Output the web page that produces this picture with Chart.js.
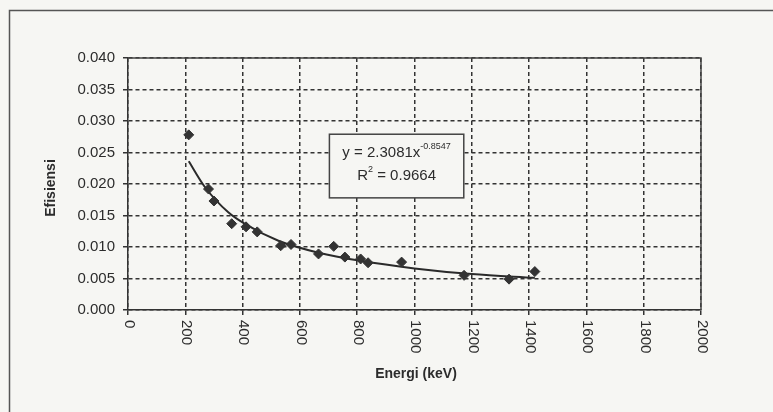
<!DOCTYPE html>
<html>
<head>
<meta charset="utf-8">
<script src="https://cdn.jsdelivr.net/npm/chart.js@4/dist/chart.umd.min.js"></script>
<style>
  html, body { margin: 0; padding: 0; background: #f6f6f3; }
  #wrap { width: 773px; height: 412px; }
</style>
</head>
<body>
<div id="wrap"><canvas id="c" width="773" height="412"></canvas></div>
<script>
// measured points (energy in keV, efficiency)
const energies = [212, 281, 300, 362, 412, 451, 533, 569, 665, 718, 757, 812, 838, 955, 1173, 1330, 1420];
const efficiencies = [0.0278, 0.0192, 0.0173, 0.0137, 0.0132, 0.0124, 0.0102, 0.0104, 0.0089, 0.0101, 0.0084, 0.0081, 0.0075, 0.0076, 0.0055, 0.0049, 0.0061];

// power trendline as it reads off the picture
const trendX = [212, 267, 350, 414, 525, 665, 812, 1000, 1200, 1420];
const trendY = [0.0236, 0.0196, 0.0155, 0.0135, 0.0110, 0.0091, 0.0078, 0.0066, 0.0057, 0.0051];

const xTicks = [0, 200, 400, 600, 800, 1000, 1200, 1400, 1600, 1800, 2000];
const yTicks = [0, 0.005, 0.010, 0.015, 0.020, 0.025, 0.030, 0.035, 0.040];

const eqMain = 'y = 2.3081x';
const eqExp = '-0.8547';
const r2Text = ' = 0.9664';

const BG = '#f6f6f3';
const INK = '#2c2c2c';
const FONT = '"Liberation Sans", Arial, sans-serif';

const decor = {
    id: 'decor',
    beforeDraw(chart) {
        const ctx = chart.ctx;
        ctx.save();
        ctx.fillStyle = BG;
        ctx.fillRect(0, 0, chart.width, chart.height);
        // outer chart frame
        ctx.strokeStyle = '#555';
        ctx.lineWidth = 1.5;
        ctx.strokeRect(9.5, 10.5, 800, 450);
        ctx.restore();
    },
    afterDraw(chart) {
        const ctx = chart.ctx;
        const a = chart.chartArea;
        const xs = chart.scales.x, ys = chart.scales.y;
        ctx.save();
        // plot frame top / right
        ctx.strokeStyle = '#444';
        ctx.lineWidth = 1.5;
        ctx.beginPath();
        ctx.moveTo(a.left, a.top);
        ctx.lineTo(a.right, a.top);
        ctx.lineTo(a.right, a.bottom);
        ctx.stroke();

        // rotated x tick labels
        ctx.fillStyle = INK;
        ctx.font = '15px ' + FONT;
        ctx.textAlign = 'left';
        ctx.textBaseline = 'middle';
        xTicks.forEach(v => {
            const px = xs.getPixelForValue(v);
            ctx.save();
            ctx.translate(px + 1, a.bottom + 10);
            ctx.rotate(Math.PI / 2);
            ctx.fillText(String(v), 0, 0);
            ctx.restore();
        });

        // axis titles
        ctx.font = 'bold 14px ' + FONT;
        ctx.textAlign = 'center';
        ctx.textBaseline = 'middle';
        ctx.fillText('Energi (keV)', 416, 374);
        ctx.save();
        ctx.translate(51, 188);
        ctx.rotate(-Math.PI / 2);
        ctx.fillText('Efisiensi', 0, 0);
        ctx.restore();

        // equation box
        const bx1 = xs.getPixelForValue(703), bx2 = xs.getPixelForValue(1172);
        const by1 = ys.getPixelForValue(0.0279), by2 = ys.getPixelForValue(0.0178);
        ctx.fillStyle = BG;
        ctx.fillRect(bx1, by1, bx2 - bx1, by2 - by1);
        ctx.strokeStyle = '#444';
        ctx.lineWidth = 1.5;
        ctx.strokeRect(bx1, by1, bx2 - bx1, by2 - by1);

        const cx = (bx1 + bx2) / 2;
        ctx.fillStyle = INK;
        ctx.textAlign = 'left';
        ctx.textBaseline = 'alphabetic';
        ctx.font = '15px ' + FONT;
        const w1 = ctx.measureText(eqMain).width;
        ctx.font = '9px ' + FONT;
        const w1e = ctx.measureText(eqExp).width;
        let x0 = cx - (w1 + w1e) / 2;
        ctx.font = '15px ' + FONT;
        ctx.fillText(eqMain, x0, by1 + 23);
        ctx.font = '9px ' + FONT;
        ctx.fillText(eqExp, x0 + w1, by1 + 15);

        ctx.font = '15px ' + FONT;
        const wr = ctx.measureText('R').width;
        const wv = ctx.measureText(r2Text).width;
        ctx.font = '9px ' + FONT;
        const w2 = ctx.measureText('2').width;
        x0 = cx - (wr + w2 + wv) / 2;
        ctx.font = '15px ' + FONT;
        ctx.fillText('R', x0, by1 + 46);
        ctx.font = '9px ' + FONT;
        ctx.fillText('2', x0 + wr, by1 + 38);
        ctx.font = '15px ' + FONT;
        ctx.fillText(r2Text, x0 + wr + w2, by1 + 46);
        ctx.restore();
    }
};

new Chart(document.getElementById('c'), {
    type: 'scatter',
    data: {
        datasets: [{
            label: 'Efisiensi',
            data: energies.map((e, i) => ({ x: e, y: efficiencies[i] })),
            pointStyle: 'rectRot',
            pointRadius: 5,
            pointBackgroundColor: '#333',
            pointBorderColor: '#333',
            showLine: false
        }, {
            label: 'Power',
            type: 'line',
            data: trendX.map((e, i) => ({ x: e, y: trendY[i] })),
            borderColor: '#2a2a2a',
            borderWidth: 2,
            pointRadius: 0,
            fill: false,
            cubicInterpolationMode: 'monotone'
        }]
    },
    options: {
        responsive: false,
        animation: false,
        layout: { padding: { left: 0, top: 58, right: 72, bottom: 0 } },
        plugins: {
            legend: { display: false },
            tooltip: { enabled: false }
        },
        scales: {
            x: {
                type: 'linear',
                min: 0,
                max: 2000,
                afterFit: s => { s.height = 102; },
                afterBuildTicks: s => { s.ticks = xTicks.map(v => ({ value: v })); },
                ticks: { display: false },
                grid: { color: '#333', lineWidth: 1.5, tickLength: 5, tickColor: '#333', tickBorderDash: [] },
                border: { display: true, color: '#333', width: 1.5, dash: [4, 3] }
            },
            y: {
                min: 0,
                max: 0.04,
                afterFit: s => { s.width = 128; },
                afterBuildTicks: s => { s.ticks = yTicks.map(v => ({ value: v })); },
                ticks: {
                    color: INK,
                    padding: 8,
                    font: { family: FONT, size: 15 },
                    callback: v => v.toFixed(3)
                },
                grid: { color: '#333', lineWidth: 1.5, tickLength: 5, tickColor: '#333', tickBorderDash: [] },
                border: { display: true, color: '#333', width: 1.5, dash: [4, 3] }
            }
        }
    },
    plugins: [decor]
});
</script>
</body>
</html>
